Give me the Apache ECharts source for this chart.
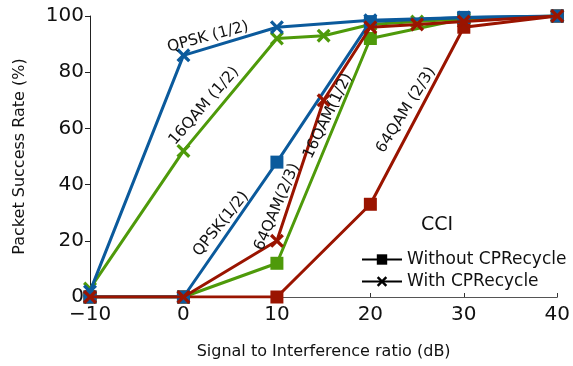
<!DOCTYPE html>
<html><head><meta charset="utf-8">
<script src="https://cdn.jsdelivr.net/npm/echarts@6/dist/echarts.min.js"></script>
<style>html,body{margin:0;padding:0;background:#fff}#c{width:573px;height:366px}</style>
</head><body><div id="c"></div>
<script>
// SIR (dB) x-values and packet success rates (%)
const qpskWithout   = [[-10,0],[0,0],[10,48],[20,98],[30,99.5],[40,100]];
const qpskWith      = [[-10,2],[0,86],[10,96],[20,98.5],[30,99.5],[40,100]];
const qam16Without  = [[-10,0],[0,0],[10,12],[20,92],[30,99],[40,100]];
const qam16With     = [[-10,3],[0,52],[10,92],[15,93],[20,97],[25,98],[30,99],[40,100]];
const qam64Without  = [[-10,0],[0,0],[10,0],[20,33],[30,96],[40,100]];
const qam64With     = [[-10,0],[0,0],[10,20],[15,70],[20,96],[25,97],[30,98],[40,100]];
const xTicks = [-10,0,10,20,30,40];
const yTicks = [0,20,40,60,80,100];
const legendNames = ['Without CPRecycle','With CPRecycle'];

const BLUE='#0b5a9c', GREEN='#4e9a0a', RED='#9a1400';
const CROSS='path://M0,2 L2,0 L6,4 L10,0 L12,2 L8,6 L12,10 L10,12 L6,8 L2,12 L0,10 L4,6 Z';
const FONT='DejaVu Sans';

function mk(name,data,color,sym,z){
  return {name:name,type:'line',data:data,z:z,symbol:sym,symbolSize:sym==='rect'?13:14,
    lineStyle:{color:color,width:3},itemStyle:{color:color},showSymbol:true,animation:false};
}
function lbl(x,y,deg,text,size){
  return {type:'text',x:x,y:y,rotation:deg*Math.PI/180,z:100,
    style:{text:text,font:size+'px "DejaVu Sans"',fill:'#111',textAlign:'center',textVerticalAlign:'middle'}};
}
const chart = echarts.init(document.getElementById('c'));
chart.setOption({
  animation:false,
  textStyle:{fontFamily:FONT},
  grid:{left:90,right:15,top:16,bottom:69},
  xAxis:{type:'value',min:-10,max:40,interval:10,
    axisLine:{show:true,onZero:false,lineStyle:{color:'#555',width:1}},
    axisTick:{show:true,inside:true,length:4,lineStyle:{color:'#333'}},
    splitLine:{show:false},
    axisLabel:{color:'#111',fontSize:20,fontFamily:FONT,margin:8,
      formatter:v=>xTicks.includes(v)?String(v).replace('-','\u2212'):''},
    name:'Signal to Interference ratio (dB)',nameLocation:'middle',nameGap:47,
    nameTextStyle:{fontSize:16,color:'#111',fontFamily:FONT}},
  yAxis:{type:'value',min:0,max:100,interval:20,
    axisLine:{show:true,onZero:false,lineStyle:{color:'#222',width:1}},
    axisTick:{show:true,inside:false,length:5,lineStyle:{color:'#222'}},
    splitLine:{show:false},
    axisLabel:{color:'#111',fontSize:20,fontFamily:FONT,margin:6,
      formatter:v=>yTicks.includes(v)?String(v):''},
    name:'Packet Success Rate (%)',nameLocation:'middle',nameGap:62,
    nameTextStyle:{fontSize:16,color:'#111',fontFamily:FONT}},
  legend:{orient:'vertical',left:356,top:246,itemGap:5,itemWidth:40,itemHeight:13,
    data:legendNames,textStyle:{fontSize:17,color:'#111',fontFamily:FONT}},
  series:[
    {name:legendNames[0],type:'line',data:[],symbol:'rect',symbolSize:13,lineStyle:{color:'#000',width:3},itemStyle:{color:'#000'}},
    {name:legendNames[1],type:'line',data:[],symbol:CROSS,symbolSize:14,lineStyle:{color:'#000',width:3},itemStyle:{color:'#000'}},
    mk('g-with',qam16With,GREEN,CROSS,2),
    mk('g-without',qam16Without,GREEN,'rect',3),
    mk('r-without',qam64Without,RED,'rect',4),
    mk('b-with',qpskWith,BLUE,CROSS,5),
    mk('b-without',qpskWithout,BLUE,'rect',6),
    mk('r-with',qam64With,RED,CROSS,7)
  ],
  graphic:[
    lbl(208,37,15,'QPSK (1/2)',15.5),
    lbl(204,106,49,'16QAM (1/2)',15.5),
    lbl(221,224,51,'QPSK(1/2)',15.5),
    lbl(277,207,67,'64QAM(2/3)',15.5),
    lbl(328,116,64,'16QAM(1/2)',15.5),
    lbl(406,110,58,'64QAM (2/3)',15.5),
    lbl(437,225,0,'CCI',19)
  ]
});
</script></body></html>
